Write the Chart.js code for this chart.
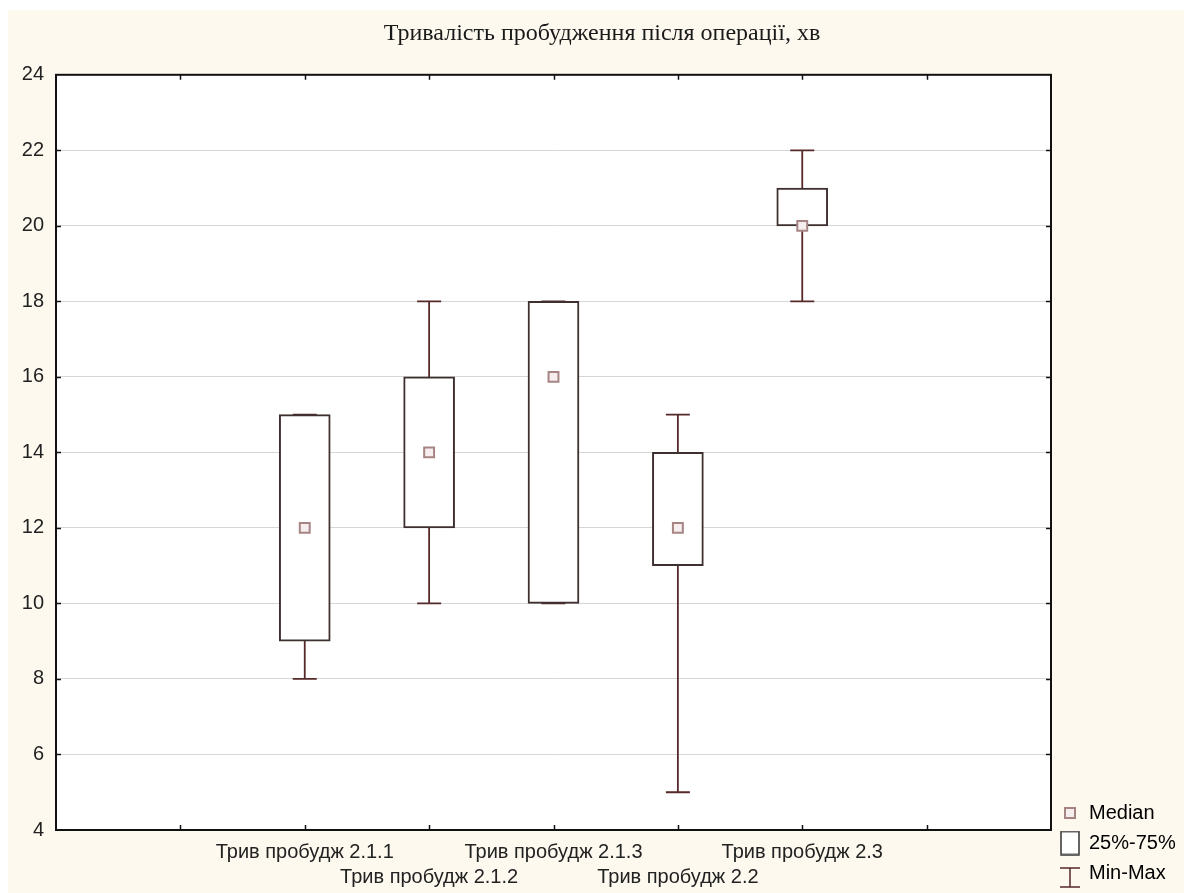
<!DOCTYPE html>
<html><head><meta charset="utf-8">
<script src="https://cdn.jsdelivr.net/npm/chart.js@4"></script>
<style>
html,body{margin:0;padding:0;background:#ffffff;}
#panel{position:absolute;left:8px;top:10px;width:1176px;height:883px;background:#fdf9ef;}
#wrap{position:absolute;left:0;top:0;width:1184px;height:893px;}
</style></head><body>
<div id="panel"></div>
<div id="wrap"><canvas id="c" width="1184" height="893"></canvas></div>
<script>
// ---- data ----
const chartTitle = 'Тривалість пробудження після операції, хв';
const categories = ['Трив пробудж 2.1.1','Трив пробудж 2.1.2','Трив пробудж 2.1.3','Трив пробудж 2.2','Трив пробудж 2.3'];
const minValues    = [8, 10, 10, 5, 18];
const q1Values     = [9, 12, 10, 11, 20];
const medianValues = [12, 14, 16, 12, 20];
const q3Values     = [15, 16, 18, 14, 21];
const maxValues    = [15, 18, 18, 15, 22];
const yMin = 4, yMax = 24, yStep = 2;
const legendLabels = ['Median', '25%-75%', 'Min-Max'];

// category slots on a 0..8 axis (categories occupy slots 2..6)
const xMin = 0, xMax = 8;
const catPos = categories.map((_, i) => i + 2);

// ---- styles ----
const FONT = 'Liberation Sans, Arial, sans-serif';
const boxColor = '#3f3030';
const whiskerColor = '#552929';
const medianStroke = '#a68484';
const medianFill = '#f6eeee';

function makeIcon(w, h, draw) {
  const c = document.createElement('canvas');
  c.width = w; c.height = h;
  draw(c.getContext('2d'));
  return c;
}
const medianIcon = makeIcon(12, 12, g => {
  g.fillStyle = medianFill; g.strokeStyle = medianStroke; g.lineWidth = 2;
  g.fillRect(1, 1, 10, 10); g.strokeRect(1, 1, 10, 10);
});
const boxIcon = makeIcon(20, 25, g => {
  g.fillStyle = '#ffffff'; g.strokeStyle = '#333333'; g.lineWidth = 1.5;
  g.fillRect(1, 1, 18, 23); g.strokeRect(1, 1, 18, 23);
});
const whiskerIcon = makeIcon(24, 32, g => {
  g.strokeStyle = whiskerColor; g.lineWidth = 1.5;
  g.beginPath();
  g.moveTo(2, 11); g.lineTo(22, 11);
  g.moveTo(12, 11); g.lineTo(12, 30);
  g.moveTo(2, 30); g.lineTo(22, 30);
  g.stroke();
});
const legendIcons = [medianIcon, boxIcon, whiskerIcon];

const plotDecor = {
  id: 'plotDecor',
  beforeDraw(chart) {
    const {ctx, chartArea: a} = chart;
    ctx.save();
    ctx.fillStyle = '#ffffff';
    ctx.fillRect(a.left, a.top, a.right - a.left, a.bottom - a.top);
    ctx.restore();
  },
  beforeDatasetsDraw(chart) {
    const {ctx} = chart;
    const xs = chart.scales.x, ys = chart.scales.y;
    ctx.save();
    ctx.strokeStyle = whiskerColor;
    ctx.lineWidth = 1.8;
    categories.forEach((_, i) => {
      const x = xs.getPixelForValue(catPos[i]);
      const yLo = ys.getPixelForValue(minValues[i]);
      const yHi = ys.getPixelForValue(maxValues[i]);
      const cap = 12;
      ctx.beginPath();
      ctx.moveTo(x, yLo); ctx.lineTo(x, yHi);
      ctx.moveTo(x - cap, yLo); ctx.lineTo(x + cap, yLo);
      ctx.moveTo(x - cap, yHi); ctx.lineTo(x + cap, yHi);
      ctx.stroke();
    });
    ctx.restore();
  },
  afterDatasetsDraw(chart) {
    const {ctx, chartArea: a} = chart;
    const xs = chart.scales.x, ys = chart.scales.y;
    ctx.save();
    ctx.strokeStyle = '#111111';
    ctx.lineWidth = 1.5;
    ctx.beginPath();
    xs.ticks.forEach(t => {
      if (t.value <= xMin || t.value >= xMax) return;
      const x = Math.round(xs.getPixelForValue(t.value)) + 0.5;
      ctx.moveTo(x, a.top); ctx.lineTo(x, a.top + 5);
      ctx.moveTo(x, a.bottom); ctx.lineTo(x, a.bottom - 5);
    });
    ys.ticks.forEach(t => {
      if (t.value <= yMin || t.value >= yMax) return;
      const y = Math.round(ys.getPixelForValue(t.value)) + 0.5;
      ctx.moveTo(a.left, y); ctx.lineTo(a.left + 5, y);
      ctx.moveTo(a.right, y); ctx.lineTo(a.right - 5, y);
    });
    ctx.stroke();
    ctx.lineWidth = 2;
    ctx.strokeRect(a.left, a.top, a.right - a.left, a.bottom - a.top);
    ctx.restore();
  }
};

new Chart(document.getElementById('c'), {
  type: 'bar',
  data: {
    datasets: [
      {
        type: 'scatter',
        label: legendLabels[0],
        order: 0,
        data: categories.map((_, i) => ({x: catPos[i], y: medianValues[i]})),
        pointStyle: 'rect',
        pointRadius: 7,
        pointHoverRadius: 7,
        borderWidth: 2,
        borderColor: medianStroke,
        backgroundColor: medianFill
      },
      {
        type: 'bar',
        label: legendLabels[1],
        order: 1,
        data: categories.map((_, i) => ({x: catPos[i], y: [q1Values[i], q3Values[i]]})),
        barThickness: 51,
        backgroundColor: '#ffffff',
        borderColor: boxColor,
        borderWidth: 2,
        borderSkipped: false
      }
    ]
  },
  options: {
    responsive: false,
    animation: false,
    devicePixelRatio: 1,
    layout: {padding: {left: 20, right: 0, top: 0, bottom: 0}},
    plugins: {
      tooltip: {enabled: false},
      title: {
        display: true,
        text: chartTitle,
        color: '#1a1a1a',
        font: {family: 'Liberation Serif, Times New Roman, serif', size: 24, weight: 'normal', lineHeight: 1.2},
        padding: {top: 19, bottom: 27}
      },
      legend: {
        display: true,
        position: 'right',
        align: 'end',
        maxWidth: 133,
        labels: {
          usePointStyle: true,
          pointStyleWidth: 18,
          padding: 10,
          color: '#222222',
          font: {family: FONT, size: 20},
          generateLabels() {
            return legendLabels.map((t, i) => ({
              text: t, pointStyle: legendIcons[i], fillStyle: '#fff',
              strokeStyle: '#000', lineWidth: 0, hidden: false, datasetIndex: i === 0 ? 0 : 1
            }));
          }
        },
        onClick() {}
      }
    },
    scales: {
      x: {
        type: 'linear',
        min: xMin, max: xMax,
        offset: false,
        grid: {display: false, drawTicks: false},
        border: {display: false},
        afterFit(scale) { scale.height = 63; },
        ticks: {
          stepSize: 1,
          autoSkip: false,
          maxRotation: 0, minRotation: 0,
          padding: 10,
          color: '#222222',
          font: {family: FONT, size: 20, lineHeight: 1.25},
          callback(v) {
            const i = catPos.indexOf(v);
            if (i < 0) return '';
            return i % 2 === 0 ? categories[i] : ['', categories[i]];
          }
        }
      },
      y: {
        min: yMin, max: yMax,
        grid: {color: '#d6d6d6', lineWidth: 1, drawTicks: false},
        border: {display: false},
        afterFit(scale) { scale.width = 36; },
        ticks: {
          stepSize: yStep,
          padding: 12,
          color: '#222222',
          font: {family: FONT, size: 20}
        }
      }
    }
  },
  plugins: [plotDecor]
});
</script>
</body></html>
